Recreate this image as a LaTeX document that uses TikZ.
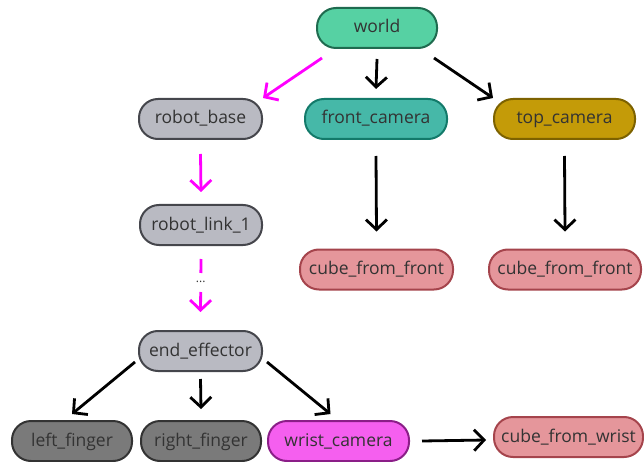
\documentclass[tikz,border=0pt]{standalone}
\usepackage{fontspec}
\setmainfont{Open Sans}
\usetikzlibrary{arrows.meta,calc}
\definecolor{worldF}{HTML}{56D1A3}\definecolor{worldD}{HTML}{1F6B4F}
\definecolor{frontF}{HTML}{46B8A8}\definecolor{frontD}{HTML}{137A6A}
\definecolor{topF}{HTML}{C49B08}\definecolor{topD}{HTML}{7D6200}
\definecolor{grayF}{HTML}{B9BAC2}\definecolor{grayD}{HTML}{45464C}
\definecolor{fingF}{HTML}{7A7A7A}\definecolor{fingD}{HTML}{333333}
\definecolor{wristF}{HTML}{F55FEF}\definecolor{wristD}{HTML}{8B1E88}
\definecolor{cubeF}{HTML}{E5969B}\definecolor{cubeD}{HTML}{A5444C}
\definecolor{txt}{HTML}{333333}
\definecolor{mag}{HTML}{FF00FF}
\tikzset{
  frame/.style={draw=#1D, fill=#1F, line width=2pt, rounded corners=19pt, minimum height=40pt, inner sep=0pt, text height=13pt, text depth=3pt, text=txt, font=\fontsize{17.5}{20}\selectfont},
  link/.style={line width=2.8pt, -{Straight Barb[length=10pt,width=21pt,line width=2.8pt]}},
  blk/.style={link, draw=black},
  magl/.style={link, draw=mag},
}
\begin{document}
\begin{tikzpicture}[x=1pt,y=-1pt]
\useasboundingbox (0,0) rectangle (644,462);
\node[frame=world, minimum width=120pt] (world) at (377,28) {world};
\node[frame=gray, minimum width=123pt] (rb) at (200.5,119) {robot\_base};
\node[frame=front, minimum width=142pt] (fc) at (376,119) {front\_camera};
\node[frame=top, minimum width=141pt] (tc) at (564.5,119) {top\_camera};
\node[frame=gray, minimum width=122pt] (rl) at (201,225) {robot\_link\_1};
\node[frame=cube, minimum width=153pt] (cf1) at (376.5,269.5) {cube\_from\_front};
\node[frame=cube, minimum width=152pt] (cf2) at (565,269.5) {cube\_from\_front};
\node[frame=gray, minimum width=123pt] (ee) at (200.5,351) {end\_effector};
\node[frame=fing, minimum width=120pt] (lf) at (72,441) {left\_finger};
\node[frame=fing, minimum width=120pt] (rf) at (201,441) {right\_finger};
\node[frame=wrist, minimum width=141pt] (wc) at (338.5,441) {wrist\_camera};
\node[frame=cube, minimum width=149pt] (cw) at (568.5,437) {cube\_from\_wrist};

\draw[magl] ([shift={(6,9)}]world.south west) -- (rb.north east);
\draw[blk] ([shift={(0,10)}]world.south) -- ([shift={(0,-9)}]fc.north);
\draw[blk] ([shift={(-4,9)}]world.south east) -- (tc.north west);
\draw[blk] ([shift={(0,16)}]fc.south) -- ([shift={(0,-17)}]cf1.north);
\draw[blk] ([shift={(0,16)}]tc.south) -- ([shift={(0,-17)}]cf2.north);
\draw[magl] ([shift={(0,14)}]rb.south) -- ([shift={(0,-12)}]rl.north);
\draw[magl, dash pattern=on 14pt off 19pt on 40pt off 0pt] ([shift={(0,13)}]rl.south) -- ([shift={(0,-18)}]ee.north) node[pos=0.43, text=txt, font=\fontsize{12}{12}\selectfont, inner sep=0pt] (dots) {...};
\draw[blk] ([shift={(-3,11)}]ee.west) -- ([shift={(0,-6)}]lf.north);
\draw[blk] ([shift={(0,7)}]ee.south) -- ([shift={(0,-11)}]rf.north);
\draw[blk] ([shift={(4,11)}]ee.east) -- ([shift={(-8,-6)}]wc.north);
\draw[blk] ([shift={(12,0)}]wc.east) -- ([shift={(-7,3)}]cw.west);
\end{tikzpicture}
\end{document}
